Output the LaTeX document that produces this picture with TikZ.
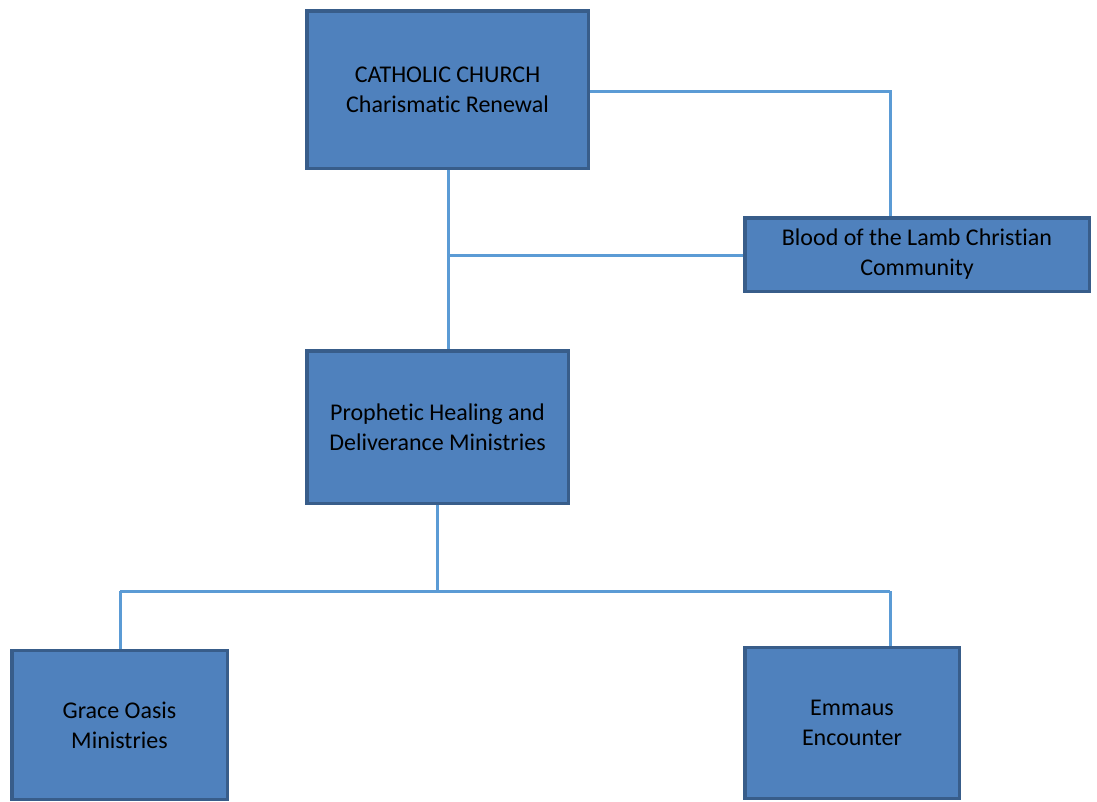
\documentclass[tikz,border=0pt]{standalone}
\usepackage{fontspec}
\setmainfont[Ligatures=NoCommon]{Carlito}
\definecolor{boxfill}{HTML}{4F81BD}
\definecolor{boxdraw}{HTML}{385D8A}
\definecolor{linkc}{HTML}{5B9BD5}
\begin{document}
\begin{tikzpicture}[x=1pt,y=-1pt,
  orgbox/.style={rectangle, fill=boxfill, draw=boxdraw, line width=3.5pt, inner sep=0pt, align=center, font=\fontsize{24}{30}\selectfont, text=black},
  link/.style={draw=linkc, line width=3pt}]
\useasboundingbox (0,0) rectangle (1097,801);
\node[orgbox, minimum width=281.5pt, minimum height=157.5pt] (cat) at (447.5,89.5) {CATHOLIC CHURCH\\Charismatic Renewal};
\node[orgbox, minimum width=344.5pt, minimum height=73.5pt] (blood) at (917,254.5) {Blood of the Lamb Christian\\Community};
\node[orgbox, minimum width=261.5pt, minimum height=152.5pt] (proph) at (437.5,427) {Prophetic Healing and\\Deliverance Ministries};
\node[orgbox, minimum width=215.5pt, minimum height=149pt] (grace) at (119.5,725) {Grace Oasis\\Ministries};
\node[orgbox, minimum width=214.5pt, minimum height=151pt] (emm) at (852,723) {Emmaus\\Encounter};
\coordinate (r1) at (890,91);
\coordinate (j1) at (448,255);
\coordinate (j2) at (437.5,591);
\coordinate (gl) at (120,591);
\coordinate (er) at (890,591);
\draw[link] (cat.east |- r1) -- (r1) -- (blood.north -| r1);
\draw[link] (cat.south -| j1) -- (proph.north -| j1);
\draw[link] (j1) -- (blood.west |- j1);
\draw[link] (proph.south) -- (j2);
\draw[link] (gl) -- (er);
\draw[link] (gl) -- (grace.north -| gl);
\draw[link] (er) -- (emm.north -| er);
\end{tikzpicture}
\end{document}
